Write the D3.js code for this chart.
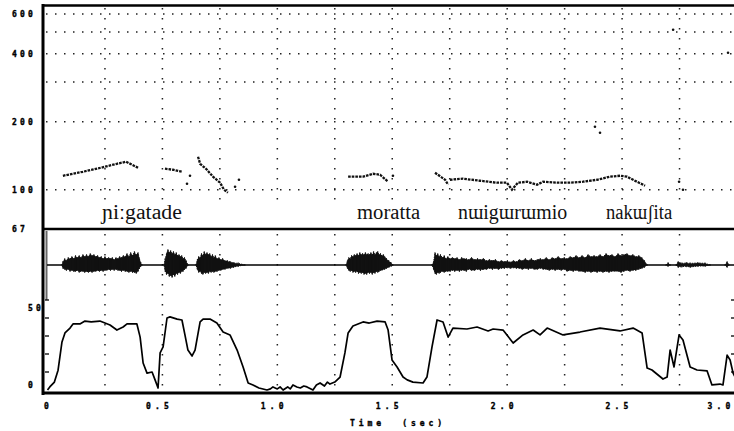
<!DOCTYPE html>
<html>
<head>
<meta charset="utf-8">
<script src="https://d3js.org/d3.v7.min.js"></script>
<style>
  body { margin: 0; background: #fff; }
  svg { display: block; }
  .dotlbl { font-family: "DejaVu Sans Mono", monospace; font-weight: bold; font-size: 8px; fill: #000; stroke: #000; stroke-width: 0.35; }
  .word { font-family: "Liberation Serif", "DejaVu Serif", serif; font-size: 20px; fill: #111; }
</style>
</head>
<body>
<div id="chart"></div>
<script>
// time axis (sec)
var timeTicks = [0, 0.5, 1.0, 1.5, 2.0, 2.5, 3.0];
var timeGrid = [0.25, 0.5, 0.75, 1.0, 1.25, 1.5, 1.75, 2.0, 2.25, 2.5, 2.75];

// F0 panel (Hz, log)
var pitchTicks = [600, 400, 200, 100, 67];
var pitchGrid = [100, 200, 300, 400, 500, 600];

// intensity panel (dB)
var dbTicks = [0, 50];
var dbMinor = [10, 20, 30, 40, 50];

// F0 contour pieces [t, Hz]
var pitchSegments = [
  [[0.067, 115.3], [0.110, 117.7], [0.154, 120.1], [0.200, 123.0], [0.250, 126.4], [0.302, 130.3], [0.342, 133.0], [0.368, 129.0], [0.394, 125.1]],
  [[0.511, 123.9], [0.546, 122.6], [0.585, 120.1]],
  [[0.655, 140.0], [0.664, 130.3], [0.694, 122.6], [0.720, 114.2], [0.751, 107.4], [0.768, 100.0], [0.785, 97.0]],
  [[1.308, 114.2], [1.373, 114.2], [1.416, 117.7], [1.447, 116.5], [1.482, 108.5]],
  [[1.686, 118.9], [1.730, 110.7], [1.743, 105.2]],
  [[1.751, 110.7], [1.808, 111.9], [1.882, 109.6], [1.956, 107.4], [1.999, 107.4], [2.021, 100.0], [2.047, 107.4],
   [2.087, 108.5], [2.130, 105.2], [2.156, 108.5], [2.217, 107.4], [2.274, 107.4], [2.330, 108.5], [2.391, 110.7],
   [2.448, 114.2], [2.491, 115.3], [2.522, 114.2], [2.556, 109.6], [2.600, 104.2]]
];
var pitchStray = [[0.620, 115.3], [0.607, 106.3], [0.816, 103.1], [0.833, 110.7], [1.503, 115.3],
  [2.382, 190], [2.404, 178.8], [2.722, 511], [2.961, 404], [2.748, 108.5], [2.765, 100]];

// waveform envelope [t, upper, lower] (relative amplitude)
var waveBursts = [
  [[0.063, 0, 0], [0.067, .15, -.15], [0.075, .3, -.2], [0.082, .2, -.25], [0.090, .35, -.2], [0.098, .3, -.3],
   [0.106, .4, -.25], [0.114, .3, -.3], [0.122, .45, -.3], [0.130, .35, -.25], [0.138, .45, -.35], [0.146, .35, -.3],
   [0.154, .5, -.3], [0.162, .4, -.35], [0.170, .5, -.3], [0.178, .4, -.35], [0.186, .55, -.3], [0.194, .45, -.35],
   [0.202, .5, -.3], [0.210, .4, -.3], [0.218, .45, -.25], [0.226, .35, -.3], [0.234, .4, -.25], [0.242, .3, -.3],
   [0.250, .4, -.25], [0.258, .3, -.25], [0.266, .35, -.2], [0.274, .3, -.25], [0.282, .35, -.2], [0.290, .25, -.25],
   [0.298, .35, -.2], [0.306, .3, -.25], [0.314, .4, -.25], [0.322, .35, -.3], [0.330, .45, -.25], [0.338, .4, -.3],
   [0.346, .55, -.3], [0.354, .4, -.35], [0.362, .6, -.3], [0.370, .45, -.35], [0.378, .65, -.35], [0.386, .5, -.4],
   [0.394, .6, -.3], [0.400, .3, -.15], [0.406, .1, -.05], [0.411, 0, 0]],
  [[0.507, 0, 0], [0.512, .3, -.3], [0.518, .55, -.45], [0.524, .75, -.4], [0.530, .6, -.55], [0.536, .7, -.5],
   [0.542, .55, -.6], [0.548, .65, -.45], [0.554, .5, -.55], [0.560, .6, -.4], [0.566, .45, -.45], [0.572, .5, -.35],
   [0.578, .4, -.4], [0.584, .45, -.3], [0.590, .3, -.3], [0.596, .35, -.2], [0.603, .2, -.15], [0.611, 0, 0]],
  [[0.646, 0, 0], [0.652, .25, -.2], [0.658, .4, -.35], [0.664, .35, -.3], [0.670, .55, -.4], [0.676, .45, -.45],
   [0.682, .65, -.35], [0.688, .5, -.4], [0.694, .6, -.35], [0.700, .5, -.4], [0.706, .55, -.3], [0.712, .4, -.35],
   [0.718, .5, -.3], [0.724, .35, -.35], [0.730, .45, -.3], [0.738, .3, -.3], [0.746, .35, -.25], [0.754, .25, -.25],
   [0.762, .3, -.2], [0.772, .2, -.2], [0.782, .2, -.15], [0.795, .15, -.15], [0.810, .1, -.1], [0.830, .08, -.05], [0.859, 0, 0]],
  [[1.299, 0, 0], [1.305, .2, -.15], [1.311, .35, -.25], [1.317, .3, -.3], [1.323, .45, -.25], [1.329, .4, -.35],
   [1.335, .5, -.3], [1.341, .45, -.35], [1.347, .55, -.3], [1.353, .45, -.4], [1.359, .6, -.35], [1.365, .5, -.4],
   [1.371, .55, -.35], [1.377, .5, -.45], [1.383, .6, -.4], [1.389, .5, -.45], [1.395, .55, -.35], [1.401, .5, -.4],
   [1.407, .6, -.35], [1.413, .5, -.45], [1.419, .65, -.35], [1.425, .5, -.4], [1.431, .6, -.3], [1.437, .65, -.35],
   [1.443, .5, -.3], [1.449, .55, -.25], [1.455, .45, -.25], [1.461, .5, -.2], [1.467, .4, -.2], [1.475, .3, -.15],
   [1.485, .2, -.1], [1.495, .1, -.05], [1.503, 0, 0]],
  [[1.673, 0, 0], [1.680, .15, -.2], [1.686, .6, -.4], [1.692, .45, -.45], [1.698, .55, -.35], [1.704, .4, -.4],
   [1.710, .5, -.35], [1.718, .35, -.3], [1.726, .45, -.35], [1.734, .3, -.3], [1.742, .4, -.3], [1.752, .3, -.3],
   [1.762, .35, -.25], [1.772, .3, -.3], [1.782, .35, -.25], [1.792, .25, -.3], [1.802, .35, -.25], [1.812, .3, -.25],
   [1.822, .3, -.3], [1.832, .25, -.2], [1.845, .35, -.25], [1.858, .25, -.25], [1.871, .3, -.2], [1.884, .25, -.25],
   [1.897, .3, -.2], [1.910, .2, -.2], [1.923, .25, -.15], [1.936, .2, -.2], [1.949, .25, -.15], [1.962, .15, -.2],
   [1.975, .2, -.15], [1.988, .15, -.15], [2.001, .2, -.12], [2.014, .12, -.15], [2.027, .2, -.12], [2.040, .15, -.15],
   [2.053, .25, -.15], [2.066, .2, -.2], [2.079, .3, -.15], [2.092, .2, -.2], [2.105, .3, -.15], [2.118, .2, -.2],
   [2.131, .25, -.2], [2.144, .3, -.15], [2.157, .25, -.2], [2.170, .35, -.2], [2.183, .25, -.25], [2.196, .35, -.2],
   [2.209, .3, -.25], [2.222, .4, -.2], [2.235, .3, -.25], [2.248, .35, -.2], [2.261, .3, -.3], [2.274, .4, -.25],
   [2.287, .35, -.3], [2.300, .45, -.25], [2.313, .35, -.3], [2.326, .45, -.3], [2.339, .35, -.35], [2.352, .5, -.3],
   [2.365, .4, -.35], [2.378, .45, -.3], [2.391, .4, -.35], [2.404, .5, -.3], [2.417, .4, -.35], [2.430, .55, -.3],
   [2.443, .45, -.35], [2.456, .5, -.3], [2.469, .4, -.3], [2.482, .55, -.3], [2.495, .45, -.35], [2.508, .5, -.3],
   [2.521, .55, -.25], [2.534, .45, -.3], [2.547, .5, -.25], [2.560, .4, -.25], [2.573, .45, -.2], [2.586, .35, -.15],
   [2.597, .2, -.1], [2.609, 0, 0]],
  [[2.691, 0, 0], [2.700, .1, -.05], [2.709, 0, 0]],
  [[2.735, 0, 0], [2.744, .15, -.1], [2.760, .08, -.08], [2.780, .1, -.06], [2.796, .08, -.1], [2.830, .1, -.05], [2.861, .08, -.05], [2.883, 0, 0]],
  [[2.948, 0, 0], [2.957, .15, -.1], [2.965, 0, 0]]
];

// intensity contour [t, dB]
var intensity = [
  [0.00, 0], [0.01, 1.7], [0.03, 4.4], [0.046, 11], [0.063, 26.7], [0.076, 31.7], [0.098, 34.4], [0.111, 36.7],
  [0.141, 36.7], [0.163, 38.3], [0.190, 37.8], [0.228, 38.3], [0.272, 36.1], [0.302, 33.3], [0.329, 35], [0.346, 36.7], [0.389, 36.7],
  [0.403, 29.4], [0.416, 15], [0.433, 9.4], [0.455, 10], [0.468, 5.6], [0.481, 1.1], [0.490, 20.6], [0.503, 23.9],
  [0.520, 40], [0.533, 40.6], [0.564, 39.4], [0.585, 38.9], [0.598, 30.6], [0.611, 22.2], [0.629, 18.9], [0.642, 22.2],
  [0.664, 37.8], [0.677, 39.4], [0.707, 39.4], [0.737, 37.2], [0.764, 32.2], [0.794, 30.6], [0.825, 22.2], [0.851, 12.8],
  [0.873, 3.9], [0.894, 2.8], [0.920, 1.1], [0.955, 0], [0.970, 0.6], [0.981, 1.7], [1.000, 0.6], [1.012, 1.7], [1.025, 0],
  [1.045, 1.7], [1.056, 0.6], [1.068, 2.8], [1.085, 1.7], [1.100, 1.1], [1.115, 2.2], [1.129, 1.7], [1.155, 0],
  [1.170, 2.8], [1.186, 3.9], [1.205, 2.2], [1.218, 4.4], [1.229, 3.3], [1.250, 4.4], [1.273, 7.2], [1.294, 20.6],
  [1.308, 31.7], [1.329, 35.6], [1.373, 37.8], [1.400, 37.2], [1.434, 38.3], [1.469, 37.8], [1.482, 33.3], [1.499, 16.7],
  [1.521, 12.8], [1.547, 7.2], [1.565, 5.6], [1.590, 4.4], [1.634, 3.9], [1.651, 7.2], [1.673, 23.9], [1.695, 38.9], [1.721, 37.8],
  [1.743, 29.4], [1.764, 34.4], [1.825, 33.9], [1.869, 35], [1.917, 32.8], [1.939, 33.9], [1.982, 33.3], [2.026, 26.1],
  [2.069, 30.6], [2.113, 33.3], [2.143, 30.6], [2.174, 34.4], [2.243, 30.6], [2.317, 32.2], [2.404, 34.4], [2.491, 32.8],
  [2.548, 34.4], [2.587, 31.7], [2.609, 12.2], [2.630, 11.1], [2.678, 6.1], [2.696, 7.2], [2.709, 22.2], [2.726, 12.8],
  [2.748, 30.6], [2.765, 27.8], [2.796, 12.8], [2.826, 11.1], [2.870, 10.6], [2.891, 2.8], [2.926, 3.3], [2.939, 2.8],
  [2.957, 19.4], [2.970, 16.7], [2.983, 9.4], [3.0, 5]
];

// transcription [text, start t, end t]
var words = [
  ["ɲiːgatade", 0.237, 0.585],
  ["moratta", 1.347, 1.621],
  ["nɯigɯrɯmio", 1.786, 2.261],
  ["nakɯʃita", 2.430, 2.718]
];

var width = 734, height = 431;

var svg = d3.select("#chart").append("svg")
    .attr("width", width)
    .attr("height", height);

var x = d3.scaleLinear().domain([0, 3]).range([47.5, 737]);
var fy = d3.scaleLog().domain([67, 600]).range([229, 14]);
var amp = d3.scaleLinear().domain([-1, 1]).range([285, 245]);
var dy = d3.scaleLinear().domain([0, 50]).range([390, 300]);

// dotted grid
var grid = svg.append("g").attr("stroke", "#222").attr("stroke-width", 1.5);

grid.selectAll("line.hg").data(pitchGrid).join("line")
    .attr("x1", 46).attr("x2", width)
    .attr("y1", d => fy(d)).attr("y2", d => fy(d))
    .attr("stroke-dasharray", "1.5 7.5");

grid.selectAll("line.vt").data(timeGrid).join("line")
    .attr("x1", d => x(d)).attr("x2", d => x(d))
    .attr("y1", 8).attr("y2", 200)
    .attr("stroke-dasharray", "1.5 8.5");

grid.selectAll("line.vb").data(timeGrid).join("line")
    .attr("x1", d => x(d)).attr("x2", d => x(d))
    .attr("y1", 234).attr("y2", 388)
    .attr("stroke-dasharray", "1.5 8.5");

// frame
var frame = svg.append("g").attr("stroke", "#000").attr("fill", "none");
frame.append("line").attr("x1", 43).attr("x2", 43).attr("y1", 4).attr("y2", 395).attr("stroke-width", 3);
frame.append("line").attr("x1", 42).attr("x2", width).attr("y1", 5.5).attr("y2", 5.5).attr("stroke-width", 2.5);
frame.append("line").attr("x1", 42).attr("x2", width).attr("y1", fy(67)).attr("y2", fy(67)).attr("stroke-width", 2.5);
frame.append("line").attr("x1", 42).attr("x2", width).attr("y1", 393).attr("y2", 393).attr("stroke-width", 3);
frame.append("line").attr("x1", 46.5).attr("x2", 46.5).attr("y1", 231).attr("y2", dy(50))
    .attr("stroke", "#666").attr("stroke-width", 2);

// dB ticks, left and right
frame.selectAll("line.dl").data(dbMinor).join("line")
    .attr("x1", 45).attr("x2", 49).attr("y1", d => dy(d)).attr("y2", d => dy(d)).attr("stroke-width", 1.3);
frame.selectAll("line.dr").data(dbMinor).join("line")
    .attr("x1", 731).attr("x2", width).attr("y1", d => dy(d)).attr("y2", d => dy(d)).attr("stroke-width", 1.3);

// tick labels
svg.append("g").selectAll("text").data(pitchTicks).join("text")
    .attr("class", "dotlbl")
    .attr("x", 12).attr("y", d => fy(d) + 3)
    .attr("letter-spacing", 3.2)
    .text(d => d);

svg.append("g").selectAll("text").data(dbTicks).join("text")
    .attr("class", "dotlbl")
    .attr("x", 28).attr("y", d => d === 0 ? dy(d) - 2 : dy(d) + 11)
    .attr("letter-spacing", 3.2)
    .text(d => d);

svg.append("g").selectAll("text").data(timeTicks).join("text")
    .attr("class", "dotlbl")
    .attr("text-anchor", "middle")
    .attr("x", d => d === 0 ? x(d) + 1 : (d === 3 ? 721 : x(d) - 3))
    .attr("y", 409)
    .attr("letter-spacing", 4.2)
    .text(d => d === 0 ? "0" : d.toFixed(1));

svg.append("text")
    .attr("class", "dotlbl")
    .attr("x", 350).attr("y", 426)
    .attr("letter-spacing", 3.9)
    .attr("xml:space", "preserve")
    .text("Time  (sec)");

// waveform
svg.append("line")
    .attr("x1", 47).attr("x2", width)
    .attr("y1", amp(0)).attr("y2", amp(0))
    .attr("stroke", "#000").attr("stroke-width", 1.3);

var waveArea = d3.area()
    .x(d => x(d[0]))
    .y0(d => amp(d[2]))
    .y1(d => amp(d[1]))
    .curve(d3.curveLinear);

svg.append("g").selectAll("path").data(waveBursts).join("path")
    .attr("d", waveArea)
    .attr("fill", "#111")
    .attr("stroke", "#111")
    .attr("stroke-width", 1)
    .attr("stroke-dasharray", "1.5 1");

// spikes at each envelope sample
svg.append("g").selectAll("line").data(waveBursts.flat()).join("line")
    .attr("x1", d => x(d[0])).attr("x2", d => x(d[0]))
    .attr("y1", d => amp(d[1]) - 1).attr("y2", d => amp(d[2]) + 1)
    .attr("stroke", "#111").attr("stroke-width", 0.8);

// F0 contour
var pitchLine = d3.line().x(d => x(d[0])).y(d => fy(d[1]));

svg.append("g").selectAll("path").data(pitchSegments).join("path")
    .attr("d", pitchLine)
    .attr("fill", "none")
    .attr("stroke", "#111")
    .attr("stroke-width", 2.3)
    .attr("stroke-dasharray", "2.6 1");

svg.append("g").selectAll("circle").data(pitchStray).join("circle")
    .attr("cx", d => x(d[0])).attr("cy", d => fy(d[1]))
    .attr("r", 1.3)
    .attr("fill", "#111");

// intensity
var dbLine = d3.line().x(d => x(d[0])).y(d => dy(d[1]));

svg.append("path")
    .datum(intensity)
    .attr("d", dbLine)
    .attr("fill", "none")
    .attr("stroke", "#000")
    .attr("stroke-width", 1.7)
    .attr("stroke-linejoin", "round");

// transcription
svg.append("g").selectAll("text").data(words).join("text")
    .attr("class", "word")
    .attr("x", d => x(d[1]))
    .attr("y", 219)
    .attr("textLength", d => x(d[2]) - x(d[1]))
    .attr("lengthAdjust", "spacingAndGlyphs")
    .text(d => d[0]);
</script>
</body>
</html>
